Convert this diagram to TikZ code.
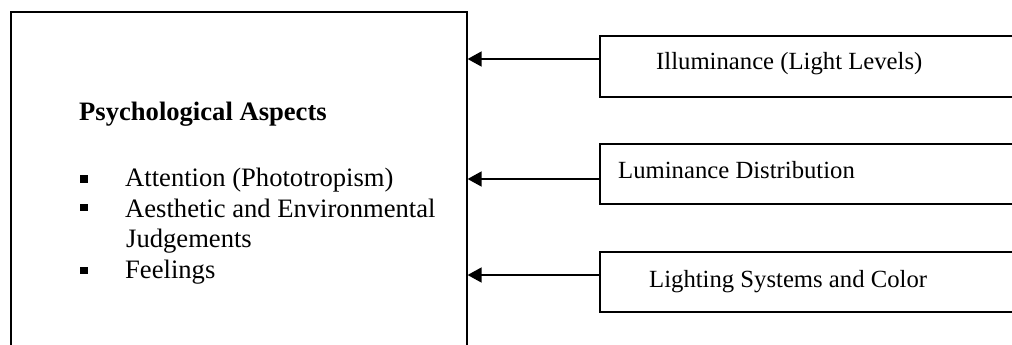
\documentclass[tikz,border=0pt]{standalone}
\usepackage{fontspec}
\setmainfont{Liberation Serif}
\usetikzlibrary{arrows.meta}
\begin{document}
\begin{tikzpicture}[x=1pt,y=-1pt,
  frame/.style={draw,line width=1.6pt,rectangle,inner sep=0pt,anchor=north west},
  small/.style={font=\fontsize{24.7}{30}\selectfont,anchor=base west,inner sep=0pt},
  big/.style={font=\fontsize{26.6}{32}\selectfont,anchor=base west,inner sep=0pt},
  bul/.style={fill,rectangle,inner sep=0pt,minimum width=8pt,minimum height=7.5pt},
  conn/.style={line width=1.6pt,-{Triangle[length=14pt,width=15pt]}}]
\useasboundingbox (0,0) rectangle (1012,345);
% main box (cut off at the bottom)
\node[frame,minimum width=456pt,minimum height=380pt] (main) at (10,11) {};
% right boxes (cut off at the right)
\node[frame,minimum width=440pt,minimum height=61pt] (b1) at (599,35) {};
\node[frame,minimum width=440pt,minimum height=60pt] (b2) at (599,143) {};
\node[frame,minimum width=440pt,minimum height=60pt] (b3) at (599,251) {};
% texts
\node[small] (t1) at (656,70) {Illuminance (Light Levels)};
\node[small] (t2) at (618,178) {Luminance Distribution};
\node[small] (t3) at (649,287) {Lighting Systems and Color};
\node[big] (title) at (79,120) {\bfseries Psychological Aspects};
\node[big] (i1) at (125,186.5) {Attention (Phototropism)};
\node[big] (i2) at (125,217) {Aesthetic and Environmental};
\node[big] (i3) at (126,247.5) {Judgements};
\node[big] (i4) at (125,278) {Feelings};
\node[bul] (p1) at (84.3,179) {};
\node[bul] (p2) at (84.3,207.5) {};
\node[bul] (p4) at (84.3,270.5) {};
% connectors
\coordinate (a1) at (599,59);
\coordinate (a2) at (599,179);
\coordinate (a3) at (599,275);
\draw[conn] (a1) -- (main.east |- a1);
\draw[conn] (a2) -- (main.east |- a2);
\draw[conn] (a3) -- (main.east |- a3);
\end{tikzpicture}
\end{document}
